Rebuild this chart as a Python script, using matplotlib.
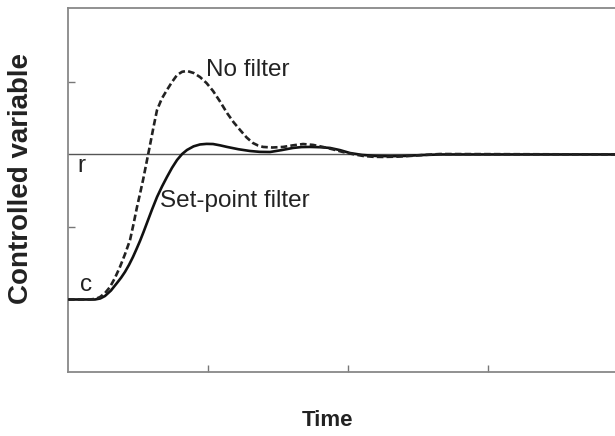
import matplotlib
matplotlib.use("Agg")
import matplotlib.pyplot as plt

plt.rcParams['font.family'] = ['Liberation Sans', 'DejaVu Sans']

# Data (time units, controlled-variable units)
r_level = 1.5
c_level = 0.5

t_nofilter = [0.0, 0.157, 0.2, 0.229, 0.265, 0.30, 0.335, 0.371, 0.407, 0.443, 0.468,
              0.493, 0.515, 0.536, 0.561, 0.586, 0.611, 0.636, 0.67, 0.707, 0.743,
              0.779, 0.815, 0.85, 0.897, 0.943, 0.99, 1.036, 1.086, 1.136, 1.183,
              1.229, 1.275, 1.321, 1.357, 1.393, 1.46, 1.536, 1.607, 1.679, 1.75,
              1.821, 1.893, 1.964, 2.036, 2.107, 2.18, 2.25, 2.35, 2.443, 2.55,
              2.657, 4.0]
y_nofilter = [0.5, 0.5, 0.505, 0.517, 0.545, 0.586, 0.648, 0.724, 0.812, 0.91, 1.02,
              1.138, 1.232, 1.324, 1.445, 1.566, 1.69, 1.807, 1.885, 1.945, 2.0,
              2.048, 2.07, 2.076, 2.062, 2.034, 1.992, 1.938, 1.865, 1.786, 1.722,
              1.669, 1.618, 1.579, 1.562, 1.552, 1.548, 1.552, 1.563, 1.572, 1.566,
              1.552, 1.535, 1.517, 1.502, 1.49, 1.484, 1.483, 1.485, 1.49, 1.497,
              1.503, 1.5]

t_filter = [0.0, 0.193, 0.23, 0.264, 0.307, 0.35, 0.379, 0.407, 0.436, 0.464, 0.489,
            0.514, 0.539, 0.564, 0.6, 0.636, 0.672, 0.707, 0.743, 0.779, 0.815,
            0.85, 0.897, 0.943, 0.99, 1.036, 1.086, 1.136, 1.218, 1.3, 1.37,
            1.443, 1.525, 1.607, 1.668, 1.729, 1.8, 1.871, 1.943, 2.014, 2.1,
            2.193, 2.3, 2.407, 2.53, 2.657, 4.0]
y_filter = [0.5, 0.5, 0.507, 0.524, 0.562, 0.614, 0.65, 0.69, 0.739, 0.793, 0.847,
            0.903, 0.964, 1.028, 1.12, 1.207, 1.28, 1.345, 1.408, 1.462, 1.503,
            1.531, 1.556, 1.569, 1.573, 1.572, 1.563, 1.552, 1.536, 1.524, 1.518,
            1.517, 1.53, 1.545, 1.551, 1.552, 1.55, 1.545, 1.53, 1.51, 1.497,
            1.49, 1.488, 1.49, 1.496, 1.5, 1.5]

x_ticks = [1, 2, 3, 4]
y_ticks = [1, 2]

W, H = 615, 436
fig = plt.figure(figsize=(W / 100, H / 100), dpi=100)
ax = fig.add_axes([68 / W, (H - 372) / H, (628 - 68) / W, (372 - 8) / H])

ax.axhline(r_level, color='#555555', lw=1.0, zorder=1)
ax.plot(t_nofilter, y_nofilter, color='#222222', lw=1.9, ls=(0, (2.5, 1.2)), zorder=3)
ax.plot(t_filter, y_filter, color='#111111', lw=1.9, zorder=2)

ax.set_xlim(0, 4)
ax.set_ylim(0, 2.51)
ax.set_xticks(x_ticks)
ax.set_yticks(y_ticks)
ax.set_xticklabels([])
ax.set_yticklabels([])
ax.tick_params(direction='in', length=5, width=1, color='#777777')

for s in ax.spines.values():
    s.set_color('#888888')
    s.set_linewidth(1.3)

ax.text(0.985, 2.08, 'No filter', fontsize=17.5, color='#222222', va='center', ha='left')
ax.text(0.655, 1.18, 'Set-point filter', fontsize=17.5, color='#222222', va='center', ha='left')
ax.text(0.07, 1.42, 'r', fontsize=17.5, color='#222222', va='center', ha='left')
ax.text(0.085, 0.60, 'c', fontsize=17.5, color='#222222', va='center', ha='left')

fig.text(21 / W, 1 - 178 / H, 'Controlled variable', rotation=90, fontsize=20,
         fontweight='bold', color='#222222', ha='center', va='center')
fig.text(328 / W, 1 - 420 / H, 'Time', fontsize=16, fontweight='bold',
         color='#222222', ha='center', va='center')

fig.savefig('out.png', dpi=100, facecolor='white')
